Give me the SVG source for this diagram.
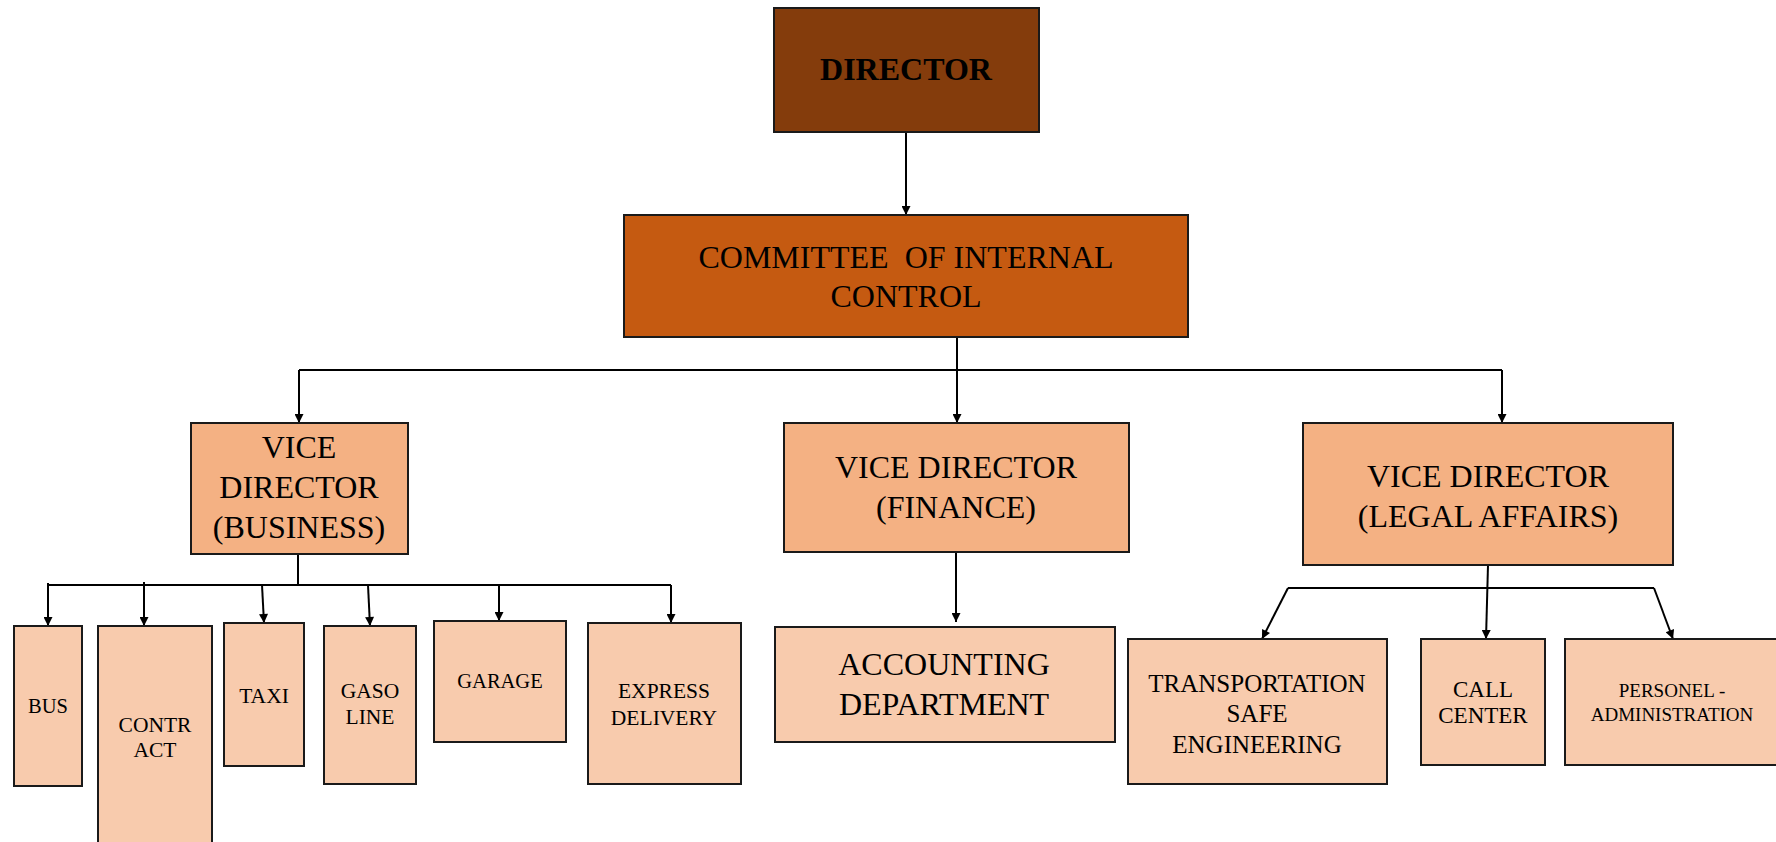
<svg xmlns="http://www.w3.org/2000/svg" width="1776" height="842" viewBox="0 0 1776 842">
<style>
text { font-family: "Liberation Serif", "Times New Roman", serif; fill: #000; text-anchor: middle; }
.box { stroke: #1a1a1a; stroke-width: 2; }
.l0 { fill: #843C0C; }
.l1 { fill: #C55A11; }
.l2 { fill: #F4B183; }
.l3 { fill: #F8CBAD; }
.t32 { font-size: 32px; }
.t22 { font-size: 21.5px; }
.conn { stroke: #000; stroke-width: 2; fill: none; }
.arr { marker-end: url(#ah); }
</style>
<defs>
<marker id="ah" viewBox="0 0 10 10" refX="10" refY="5" markerWidth="11" markerHeight="9" markerUnits="userSpaceOnUse" orient="auto">
<path d="M0,0 L10,5 L0,10 z" fill="#000"/>
</marker>
</defs>
<rect width="1776" height="842" fill="#fff"/>
<g id="connectors">
<path class="conn arr" d="M906,132 L906,215"/>
<path class="conn" d="M957,337 L957,370 M299,370 L1502,370"/>
<path class="conn arr" d="M957,370 L957,423"/>
<path class="conn arr" d="M299,370 L299,423"/>
<path class="conn arr" d="M1502,370 L1502,423"/>
<path class="conn arr" d="M956,552 L956,622"/>
<path class="conn" d="M298,554 L298,585 M48,585 L671,585"/>
<path class="conn arr" d="M48,583 L48,626"/>
<path class="conn arr" d="M144,582 L144,626"/>
<path class="conn arr" d="M262,585 L264,623"/>
<path class="conn arr" d="M368,585 L370,626"/>
<path class="conn arr" d="M499,585 L499,621"/>
<path class="conn arr" d="M671,585 L671,623"/>
<path class="conn" d="M1288,588 L1654,588" stroke="#555"/>
<path class="conn arr" d="M1488,565 L1486,639"/>
<path class="conn arr" d="M1288,588 L1262,639"/>
<path class="conn arr" d="M1654,588 L1673,639"/>
</g>
<g id="director">
<rect class="box l0" x="774" y="8" width="265" height="124"/>
<text class="t32" x="906" y="80" font-weight="bold">DIRECTOR</text>
</g>
<g id="committee">
<rect class="box l1" x="624" y="215" width="564" height="122"/>
<text class="t32" x="906" y="268" xml:space="preserve">COMMITTEE  OF INTERNAL</text>
<text class="t32" x="906" y="307">CONTROL</text>
</g>
<g id="vd-business">
<rect class="box l2" x="191" y="423" width="217" height="131"/>
<text class="t32" x="299" y="458">VICE</text>
<text class="t32" x="299" y="498">DIRECTOR</text>
<text class="t32" x="299" y="538">(BUSINESS)</text>
</g>
<g id="vd-finance">
<rect class="box l2" x="784" y="423" width="345" height="129"/>
<text class="t32" x="956" y="478">VICE DIRECTOR</text>
<text class="t32" x="956" y="518">(FINANCE)</text>
</g>
<g id="vd-legal">
<rect class="box l2" x="1303" y="423" width="370" height="142"/>
<text class="t32" x="1488" y="487">VICE DIRECTOR</text>
<text class="t32" x="1488" y="527">(LEGAL AFFAIRS)</text>
</g>
<g id="accounting">
<rect class="box l3" x="775" y="627" width="340" height="115"/>
<text class="t32" x="944" y="675">ACCOUNTING</text>
<text class="t32" x="944" y="715">DEPARTMENT</text>
</g>
<g id="bus">
<rect class="box l3" x="14" y="626" width="68" height="160"/>
<text class="t22" x="48" y="713" style="font-size:20.5px">BUS</text>
</g>
<g id="contract">
<rect class="box l3" x="98" y="626" width="114" height="230"/>
<text class="t22" x="155" y="732">CONTR</text>
<text class="t22" x="155" y="757">ACT</text>
</g>
<g id="taxi">
<rect class="box l3" x="224" y="623" width="80" height="143"/>
<text class="t22" x="264" y="703">TAXI</text>
</g>
<g id="gasoline">
<rect class="box l3" x="324" y="626" width="92" height="158"/>
<text class="t22" x="370" y="698">GASO</text>
<text class="t22" x="370" y="724">LINE</text>
</g>
<g id="garage">
<rect class="box l3" x="434" y="621" width="132" height="121"/>
<text class="t22" x="500" y="688" style="font-size:20.5px">GARAGE</text>
</g>
<g id="express">
<rect class="box l3" x="588" y="623" width="153" height="161"/>
<text class="t22" x="664" y="698">EXPRESS</text>
<text class="t22" x="664" y="725">DELIVERY</text>
</g>
<g id="transportation">
<rect class="box l3" x="1128" y="639" width="259" height="145"/>
<text x="1257" y="692" font-size="25">TRANSPORTATION</text>
<text x="1257" y="722" font-size="25">SAFE</text>
<text x="1257" y="753" font-size="25">ENGINEERING</text>
</g>
<g id="callcenter">
<rect class="box l3" x="1421" y="639" width="124" height="126"/>
<text x="1483" y="697" font-size="23">CALL</text>
<text x="1483" y="723" font-size="23">CENTER</text>
</g>
<g id="personel">
<rect class="box l3" x="1565" y="639" width="212" height="126"/>
<text x="1672" y="697" font-size="19">PERSONEL -</text>
<text x="1672" y="721" font-size="19">ADMINISTRATION</text>
</g>
</svg>
